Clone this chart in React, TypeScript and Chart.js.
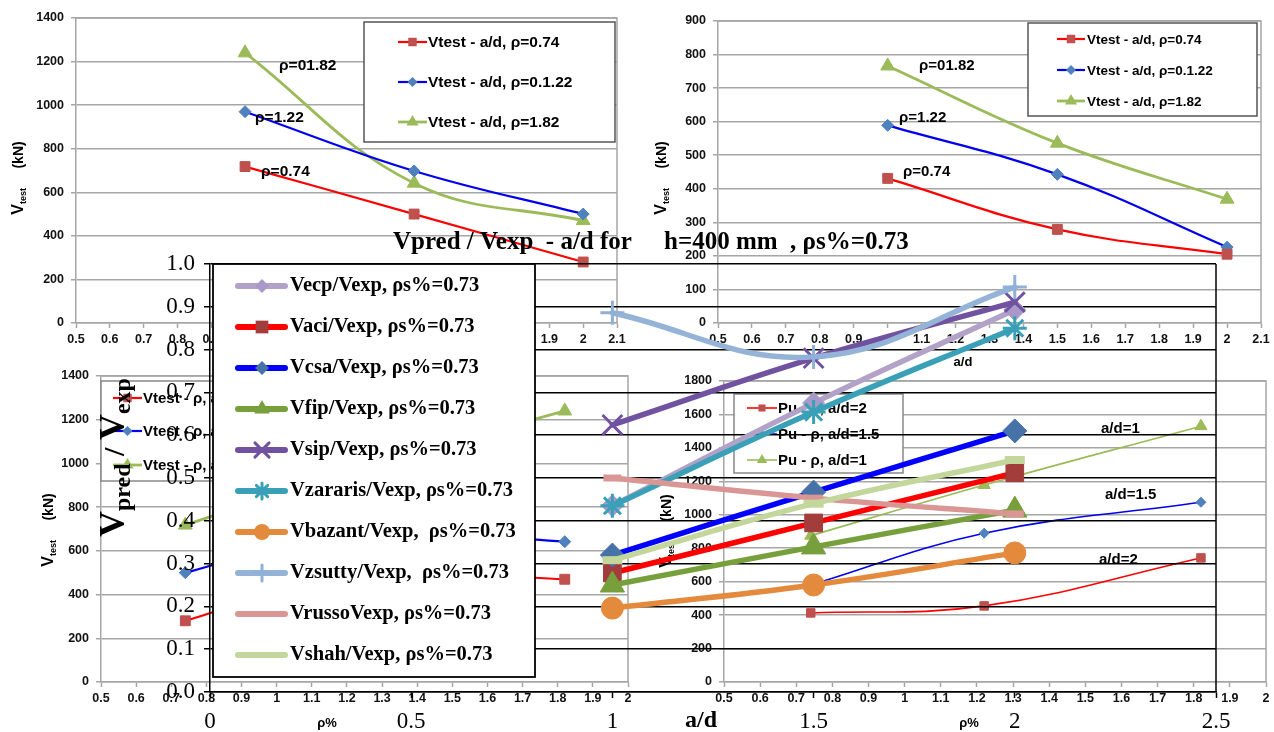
import React, { useEffect, useRef } from "react";
import { Chart, registerables } from "chart.js";

Chart.register(...registerables);

const W = 1274;
const H = 732;
const SANS = "'Liberation Sans', Arial, sans-serif";
const SERIF = "'Liberation Serif', 'Times New Roman', serif";
const GRID = "#a6a6a6";

// ---------------- data ----------------
const adRatios = [1, 1.5, 2];
const rhoPercents = [0.74, 1.22, 1.82];

// top-left: Vtest vs a/d
const tlVtestRho074 = [718, 500, 280];
const tlVtestRho122 = [970, 698, 500];
const tlVtestRho182 = [1240, 642, 470];
// top-right: Vtest vs a/d
const trVtestRho074 = [431, 279, 205];
const trVtestRho122 = [589, 443, 226];
const trVtestRho182 = [766, 536, 369];
const vtestAdLabels = ["Vtest - a/d, ρ=0.74", "Vtest - a/d, ρ=0.1.22", "Vtest - a/d, ρ=1.82"];
const rhoNotes = ["ρ=0.74", "ρ=1.22", "ρ=01.82"];

// bottom-left: Vtest vs rho
const blVtestAd2 = [280, 500, 470];
const blVtestAd15 = [500, 698, 642];
const blVtestAd1 = [718, 970, 1240];
const vtestRhoLabels = ["Vtest - ρ, a/d=2", "Vtest - ρ, a/d=1.5", "Vtest - ρ, a/d=1"];

// bottom-right: Pu vs rho
const brPuAd2 = [413, 455, 742];
const brPuAd15 = [580, 890, 1075];
const brPuAd1 = [875, 1178, 1530];
const puLabels = ["Pu - ρ, a/d=2", "Pu - ρ, a/d=1.5", "Pu - ρ, a/d=1"];
const adNotes = ["a/d=2", "a/d=1.5", "a/d=1"];

// overlay: Vpred / Vexp vs a/d
const ratioTitle = "Vpred / Vexp  - a/d for";
const ratioTitle2 = "h=400 mm  , ρs%=0.73";
const ratioLabels = [
  "Vecp/Vexp, ρs%=0.73",
  "Vaci/Vexp, ρs%=0.73",
  "Vcsa/Vexp, ρs%=0.73",
  "Vfip/Vexp, ρs%=0.73",
  "Vsip/Vexp, ρs%=0.73",
  "Vzararis/Vexp, ρs%=0.73",
  "Vbazant/Vexp,  ρs%=0.73",
  "Vzsutty/Vexp,  ρs%=0.73",
  "VrussoVexp, ρs%=0.73",
  "Vshah/Vexp, ρs%=0.73",
];
const vecpRatio = [0.435, 0.675, 0.893];
const vaciRatio = [0.278, 0.395, 0.512];
const vcsaRatio = [0.32, 0.467, 0.61];
const vfipRatio = [0.25, 0.339, 0.425];
const vsipRatio = [0.624, 0.78, 0.911];
const vzararisRatio = [0.435, 0.654, 0.85];
const vbazantRatio = [0.196, 0.25, 0.325];
const vzsuttyRatio = [0.886, 0.783, 0.946];
const vrussoRatio = [0.5, 0.453, 0.416];
const vshahRatio = [0.308, 0.44, 0.542];

// ---------------- helpers ----------------
function drawMarker(ctx: any, style: string, x: number, y: number, r: number, fill: string, stroke: string, lw: number) {
  ctx.save();
  ctx.fillStyle = fill;
  ctx.strokeStyle = stroke;
  ctx.lineWidth = lw;
  ctx.beginPath();
  const s = r * Math.SQRT1_2;
  switch (style) {
    case "rect":
      ctx.rect(x - s, y - s, 2 * s, 2 * s);
      ctx.fill();
      break;
    case "rectRot":
      ctx.moveTo(x, y - r);
      ctx.lineTo(x + r, y);
      ctx.lineTo(x, y + r);
      ctx.lineTo(x - r, y);
      ctx.closePath();
      ctx.fill();
      break;
    case "triangle":
      ctx.moveTo(x, y - r);
      ctx.lineTo(x + r * 0.866, y + r / 2);
      ctx.lineTo(x - r * 0.866, y + r / 2);
      ctx.closePath();
      ctx.fill();
      break;
    case "circle":
      ctx.arc(x, y, r, 0, Math.PI * 2);
      ctx.fill();
      break;
    case "cross":
      ctx.moveTo(x, y - r);
      ctx.lineTo(x, y + r);
      ctx.moveTo(x - r, y);
      ctx.lineTo(x + r, y);
      ctx.stroke();
      break;
    case "crossRot":
      ctx.moveTo(x - s, y - s);
      ctx.lineTo(x + s, y + s);
      ctx.moveTo(x + s, y - s);
      ctx.lineTo(x - s, y + s);
      ctx.stroke();
      break;
    case "star":
      ctx.moveTo(x, y - r);
      ctx.lineTo(x, y + r);
      ctx.moveTo(x - r, y);
      ctx.lineTo(x + r, y);
      ctx.moveTo(x - s, y - s);
      ctx.lineTo(x + s, y + s);
      ctx.moveTo(x + s, y - s);
      ctx.lineTo(x - s, y + s);
      ctx.stroke();
      break;
    case "line":
      ctx.moveTo(x - r, y);
      ctx.lineTo(x + r, y);
      ctx.stroke();
      break;
  }
  ctx.restore();
}

function drawVtestTitle(ctx: any, cx: number, cy: number) {
  const parts = [
    { t: "V", f: `bold 16px ${SANS}`, dy: 0 },
    { t: "test", f: `bold 9px ${SANS}`, dy: 3 },
    { t: "     (kN)", f: `bold 14px ${SANS}`, dy: 0 },
  ];
  ctx.save();
  ctx.translate(cx, cy);
  ctx.rotate(-Math.PI / 2);
  ctx.fillStyle = "#000";
  ctx.textBaseline = "alphabetic";
  ctx.textAlign = "left";
  let total = 0;
  for (const p of parts) {
    ctx.font = p.f;
    total += ctx.measureText(p.t).width;
  }
  let x = -total / 2;
  for (const p of parts) {
    ctx.font = p.f;
    ctx.fillText(p.t, x, 5 + p.dy);
    x += ctx.measureText(p.t).width;
  }
  ctx.restore();
}

interface BgSeries {
  label: string;
  xs: number[];
  ys: number[];
  line: string;
  point: string;
  style: string;
  radius: number;
  width: number;
}
interface BgSpec {
  area: { l: number; t: number; r: number; b: number };
  xMin: number;
  xMax: number;
  yMax: number;
  yStep: number;
  series: BgSeries[];
  tension: number;
  legend: { x: number; y: number; w: number; h: number; rows: number[]; lx0: number; lx1: number; tx: number; size: number; border: string };
  notes: { text: string; x: number; y: number }[];
  noteSize: number;
  yTitle: { x: number; y: number };
  xTitle: { text: string; x: number; y: number };
}

function bgConfig(spec: BgSpec): any {
  const yW = 50;
  const xH = 30;
  const tickFont = { family: SANS, size: 12.5, weight: "bold" as const };
  const decor = {
    id: "bgDecor",
    afterDraw(chart: any) {
      const ctx = chart.ctx;
      const a = chart.chartArea;
      ctx.save();
      ctx.strokeStyle = GRID;
      ctx.lineWidth = 1.5;
      ctx.beginPath();
      ctx.moveTo(a.left, a.top);
      ctx.lineTo(a.right, a.top);
      ctx.lineTo(a.right, a.bottom);
      ctx.stroke();
      // legend
      const L = spec.legend;
      ctx.fillStyle = "#fff";
      ctx.fillRect(L.x, L.y, L.w, L.h);
      ctx.strokeStyle = L.border;
      ctx.lineWidth = 1.5;
      ctx.strokeRect(L.x, L.y, L.w, L.h);
      ctx.font = `bold ${L.size}px ${SANS}`;
      ctx.textBaseline = "middle";
      ctx.textAlign = "left";
      spec.series.forEach((s, i) => {
        const y = L.rows[i];
        ctx.strokeStyle = s.line;
        ctx.lineWidth = s.width;
        ctx.beginPath();
        ctx.moveTo(L.lx0, y);
        ctx.lineTo(L.lx1, y);
        ctx.stroke();
        drawMarker(ctx, s.style, (L.lx0 + L.lx1) / 2, y, s.radius - 1, s.point, s.point, 1);
        ctx.fillStyle = "#000";
        ctx.fillText(s.label, L.tx, y + 1);
      });
      // notes
      ctx.font = `bold ${spec.noteSize}px ${SANS}`;
      ctx.fillStyle = "#000";
      for (const n of spec.notes) ctx.fillText(n.text, n.x, n.y);
      // axis titles
      ctx.font = `bold 13px ${SANS}`;
      ctx.textAlign = "center";
      ctx.fillText(spec.xTitle.text, spec.xTitle.x, spec.xTitle.y);
      ctx.restore();
      drawVtestTitle(ctx, spec.yTitle.x, spec.yTitle.y);
    },
  };
  return {
    type: "line",
    data: {
      datasets: spec.series.map((s) => ({
        label: s.label,
        data: s.xs.map((x, i) => ({ x, y: s.ys[i] })),
        borderColor: s.line,
        borderWidth: s.width,
        backgroundColor: s.point,
        pointBackgroundColor: s.point,
        pointBorderColor: s.point,
        pointBorderWidth: 1,
        pointStyle: s.style,
        pointRadius: s.radius,
        tension: spec.tension,
        borderJoinStyle: "round",
        fill: false,
      })),
    },
    options: {
      responsive: false,
      animation: false,
      devicePixelRatio: 1,
      events: [],
      layout: {
        padding: { left: spec.area.l - yW, top: spec.area.t, right: W - spec.area.r, bottom: H - spec.area.b - xH },
      },
      plugins: { legend: { display: false }, tooltip: { enabled: false }, title: { display: false } },
      scales: {
        x: {
          type: "linear",
          min: spec.xMin,
          max: spec.xMax,
          afterFit: (s: any) => {
            s.height = xH;
          },
          ticks: {
            stepSize: 0.1,
            autoSkip: false,
            maxRotation: 0,
            padding: 4,
            color: "#111",
            font: tickFont,
            callback: (v: any) => String(Math.round(Number(v) * 10) / 10),
          },
          grid: { drawOnChartArea: false, drawTicks: true, tickLength: 5, tickColor: GRID, tickWidth: 1.5, color: GRID },
          border: { color: GRID, width: 1.5 },
        },
        y: {
          type: "linear",
          min: 0,
          max: spec.yMax,
          afterFit: (s: any) => {
            s.width = yW;
          },
          ticks: {
            stepSize: spec.yStep,
            padding: 7,
            color: "#111",
            font: tickFont,
            callback: (v: any) => String(Math.round(Number(v))),
          },
          grid: { color: GRID, lineWidth: 1.5, tickLength: 5 },
          border: { color: GRID, width: 1.5 },
        },
      },
    },
    plugins: [decor],
  };
}

const RED = { line: "#ff0000", point: "#c0504d", style: "rect", radius: 7 };
const BLUE = { line: "#0000ee", point: "#4f81bd", style: "rectRot", radius: 6 };
const GREEN = { line: "#9bbb59", point: "#9bbb59", style: "triangle", radius: 8 };

function topLeftSpec(): BgSpec {
  return {
    area: { l: 76, t: 18, r: 617, b: 323 },
    xMin: 0.5,
    xMax: 2.1,
    yMax: 1400,
    yStep: 200,
    tension: 0.4,
    series: [
      { label: vtestAdLabels[0], xs: adRatios, ys: tlVtestRho074, ...RED, width: 2.2 },
      { label: vtestAdLabels[1], xs: adRatios, ys: tlVtestRho122, ...BLUE, width: 2.2 },
      { label: vtestAdLabels[2], xs: adRatios, ys: tlVtestRho182, ...GREEN, width: 2.8 },
    ],
    legend: { x: 364, y: 22, w: 251, h: 120, rows: [42, 82, 122], lx0: 398, lx1: 427, tx: 428, size: 15.5, border: "#555" },
    notes: [
      { text: rhoNotes[0], x: 261, y: 172 },
      { text: rhoNotes[1], x: 255, y: 118 },
      { text: rhoNotes[2], x: 279, y: 66 },
    ],
    noteSize: 15.5,
    yTitle: { x: 18, y: 178 },
    xTitle: { text: "a/d", x: 347, y: 362 },
  };
}

function topRightSpec(): BgSpec {
  return {
    area: { l: 718, t: 21, r: 1261, b: 323 },
    xMin: 0.5,
    xMax: 2.1,
    yMax: 900,
    yStep: 100,
    tension: 0.4,
    series: [
      { label: vtestAdLabels[0], xs: adRatios, ys: trVtestRho074, ...RED, width: 2.2 },
      { label: vtestAdLabels[1], xs: adRatios, ys: trVtestRho122, ...BLUE, width: 2.2 },
      { label: vtestAdLabels[2], xs: adRatios, ys: trVtestRho182, ...GREEN, width: 2.8 },
    ],
    legend: { x: 1028, y: 23, w: 229, h: 93, rows: [39, 70, 101], lx0: 1057, lx1: 1085, tx: 1087, size: 13.5, border: "#555" },
    notes: [
      { text: rhoNotes[0], x: 903, y: 172 },
      { text: rhoNotes[1], x: 899, y: 118 },
      { text: rhoNotes[2], x: 919, y: 66 },
    ],
    noteSize: 15,
    yTitle: { x: 661, y: 178 },
    xTitle: { text: "a/d", x: 963, y: 362 },
  };
}

function bottomLeftSpec(): BgSpec {
  return {
    area: { l: 101, t: 376, r: 628, b: 682 },
    xMin: 0.5,
    xMax: 2,
    yMax: 1400,
    yStep: 200,
    tension: 0.4,
    series: [
      { label: vtestRhoLabels[0], xs: rhoPercents, ys: blVtestAd2, ...RED, width: 2.2 },
      { label: vtestRhoLabels[1], xs: rhoPercents, ys: blVtestAd15, ...BLUE, width: 2.2 },
      { label: vtestRhoLabels[2], xs: rhoPercents, ys: blVtestAd1, ...GREEN, width: 2.8 },
    ],
    legend: { x: 101, y: 381, w: 170, h: 100, rows: [398, 431, 465], lx0: 113, lx1: 142, tx: 143, size: 15, border: "#888" },
    notes: [],
    noteSize: 15,
    yTitle: { x: 48, y: 530 },
    xTitle: { text: "ρ%", x: 327, y: 723 },
  };
}

function bottomRightSpec(): BgSpec {
  return {
    area: { l: 724, t: 381, r: 1266, b: 682 },
    xMin: 0.5,
    xMax: 2,
    yMax: 1800,
    yStep: 200,
    tension: 0.4,
    series: [
      { label: puLabels[0], xs: rhoPercents, ys: brPuAd2, ...RED, radius: 6, width: 1.6 },
      { label: puLabels[1], xs: rhoPercents, ys: brPuAd15, ...BLUE, radius: 5, width: 1.6 },
      { label: puLabels[2], xs: rhoPercents, ys: brPuAd1, ...GREEN, radius: 7, width: 1.6 },
    ],
    legend: { x: 734, y: 394, w: 169, h: 79, rows: [408, 434, 460], lx0: 747, lx1: 777, tx: 778, size: 15, border: "#888" },
    notes: [
      { text: adNotes[0], x: 1099, y: 560 },
      { text: adNotes[1], x: 1105, y: 495 },
      { text: adNotes[2], x: 1101, y: 429 },
    ],
    noteSize: 15,
    yTitle: { x: 666, y: 531 },
    xTitle: { text: "ρ%", x: 969, y: 723 },
  };
}

// ---------------- overlay ----------------
const ratioStyles = [
  { line: "#b3a2c7", point: "#a999c9", style: "rectRot", r: 11, pw: 1, lr: 7 },
  { line: "#ff0000", point: "#a33d3b", style: "rect", r: 12.5, pw: 1, lr: 9 },
  { line: "#0000ff", point: "#4672a8", style: "rectRot", r: 12, pw: 1, lr: 7 },
  { line: "#77a03c", point: "#77a03c", style: "triangle", r: 14, pw: 1, lr: 9 },
  { line: "#7052a0", point: "#7052a0", style: "crossRot", r: 14, pw: 3, lr: 10 },
  { line: "#3aa0b8", point: "#3aa0b8", style: "star", r: 12, pw: 3, lr: 8 },
  { line: "#e38a3d", point: "#e38a3d", style: "circle", r: 11, pw: 1, lr: 8 },
  { line: "#95b3d7", point: "#8fb0d8", style: "cross", r: 12, pw: 3, lr: 8 },
  { line: "#d99694", point: "#d99694", style: "line", r: 9, pw: 7, lr: 0 },
  { line: "#c3d69b", point: "#c3d69b", style: "line", r: 10, pw: 8, lr: 0 },
];
const ratioValues = [
  vecpRatio,
  vaciRatio,
  vcsaRatio,
  vfipRatio,
  vsipRatio,
  vzararisRatio,
  vbazantRatio,
  vzsuttyRatio,
  vrussoRatio,
  vshahRatio,
];

function overlayConfig(): any {
  const area = { l: 210, t: 264, r: 1216, b: 692 };
  const yW = 60;
  const xH = 40;
  const n = ratioLabels.length;
  const decor = {
    id: "ovDecor",
    afterDraw(chart: any) {
      const ctx = chart.ctx;
      const a = chart.chartArea;
      ctx.save();
      ctx.strokeStyle = "#000";
      ctx.lineWidth = 1.5;
      ctx.beginPath();
      ctx.moveTo(a.right, a.top);
      ctx.lineTo(a.right, a.bottom);
      ctx.stroke();
      // legend box
      const lx = 213;
      const ly = 264;
      const lw = 322;
      const lh = 413;
      ctx.fillStyle = "#fff";
      ctx.fillRect(lx, ly, lw, lh);
      ctx.strokeStyle = "#000";
      ctx.lineWidth = 1.8;
      ctx.strokeRect(lx, ly, lw, lh);
      ctx.font = `bold 20.5px ${SERIF}`;
      ctx.textBaseline = "middle";
      ctx.textAlign = "left";
      chart.data.datasets.forEach((ds: any, i: number) => {
        const st = ratioStyles[i];
        const y = 286 + i * 41;
        ctx.strokeStyle = st.line;
        ctx.lineWidth = 6;
        ctx.lineCap = "round";
        ctx.beginPath();
        ctx.moveTo(238, y);
        ctx.lineTo(285, y);
        ctx.stroke();
        if (st.lr > 0) drawMarker(ctx, st.style, 262, y, st.lr, st.point, st.point, st.pw);
        ctx.fillStyle = "#000";
        ctx.fillText(ds.label, 290, y);
      });
      // title
      ctx.font = `bold 25px ${SERIF}`;
      ctx.fillStyle = "#000";
      ctx.textBaseline = "middle";
      ctx.fillText(ratioTitle, 393, 243);
      ctx.fillText(ratioTitle2, 664, 243);
      // x title
      ctx.font = `bold 24px ${SERIF}`;
      ctx.textAlign = "center";
      ctx.fillText("a/d", 701, 721);
      ctx.restore();
      // y title
      ctx.save();
      ctx.translate(124, 537);
      ctx.rotate(-Math.PI / 2);
      ctx.fillStyle = "#000";
      ctx.textBaseline = "alphabetic";
      ctx.textAlign = "left";
      const parts = [
        { t: "V", s: 36, dy: 0 },
        { t: "pred", s: 24, dy: 6 },
        { t: " / ", s: 30, dy: 0 },
        { t: "V", s: 36, dy: 0 },
        { t: "exp", s: 24, dy: 6 },
      ];
      let x = 0;
      for (const p of parts) {
        ctx.font = `bold ${p.s}px ${SERIF}`;
        ctx.fillText(p.t, x, p.dy);
        x += ctx.measureText(p.t).width;
      }
      ctx.restore();
    },
  };
  return {
    type: "line",
    data: {
      datasets: ratioLabels.map((label, i) => {
        const st = ratioStyles[i];
        return {
          label,
          data: adRatios.map((x, j) => ({ x, y: ratioValues[i][j] })),
          borderColor: st.line,
          borderWidth: 5.5,
          backgroundColor: st.point,
          pointBackgroundColor: st.point,
          pointBorderColor: st.point,
          pointBorderWidth: st.pw,
          pointStyle: st.style,
          pointRadius: st.r,
          tension: 0.4,
          borderJoinStyle: "round",
          borderCapStyle: "round",
          order: n - i,
          fill: false,
        };
      }),
    },
    options: {
      responsive: false,
      animation: false,
      devicePixelRatio: 1,
      events: [],
      layout: { padding: { left: area.l - yW, top: area.t, right: W - area.r, bottom: H - area.b - xH } },
      plugins: { legend: { display: false }, tooltip: { enabled: false }, title: { display: false } },
      scales: {
        x: {
          type: "linear",
          min: 0,
          max: 2.5,
          afterFit: (s: any) => {
            s.height = xH;
          },
          ticks: {
            stepSize: 0.5,
            autoSkip: false,
            maxRotation: 0,
            padding: 10,
            color: "#000",
            font: { family: SERIF, size: 23 },
            callback: (v: any) => String(Math.round(Number(v) * 10) / 10),
          },
          grid: { drawOnChartArea: false, tickLength: 6, tickColor: "#000", tickWidth: 1.5, color: "#000" },
          border: { color: "#000", width: 1.5 },
        },
        y: {
          type: "linear",
          min: 0,
          max: 1,
          afterFit: (s: any) => {
            s.width = yW;
          },
          ticks: {
            stepSize: 0.1,
            padding: 9,
            color: "#000",
            font: { family: SERIF, size: 23 },
            callback: (v: any) => Number(v).toFixed(1),
          },
          grid: { color: "#000", lineWidth: 1.5, tickLength: 6, tickColor: "#000" },
          border: { color: "#000", width: 1.5 },
        },
      },
    },
    plugins: [decor],
  };
}

export default function App() {
  const r0 = useRef<HTMLCanvasElement>(null);
  const r1 = useRef<HTMLCanvasElement>(null);
  const r2 = useRef<HTMLCanvasElement>(null);
  const r3 = useRef<HTMLCanvasElement>(null);
  const r4 = useRef<HTMLCanvasElement>(null);
  const refs = [r0, r1, r2, r3, r4];

  useEffect(() => {
    const charts = [
      new Chart(r0.current as HTMLCanvasElement, bgConfig(topLeftSpec())),
      new Chart(r1.current as HTMLCanvasElement, bgConfig(topRightSpec())),
      new Chart(r2.current as HTMLCanvasElement, bgConfig(bottomLeftSpec())),
      new Chart(r3.current as HTMLCanvasElement, bgConfig(bottomRightSpec())),
      new Chart(r4.current as HTMLCanvasElement, overlayConfig()),
    ];
    return () => charts.forEach((c) => c.destroy());
  }, []);

  return (
    <div style={{ position: "absolute", left: 0, top: 0, width: W, height: H, background: "#fff", overflow: "hidden" }}>
      {refs.map((r, i) => (
        <canvas
          key={i}
          ref={r}
          width={W}
          height={H}
          style={{ position: "absolute", left: 0, top: 0, width: W, height: H }}
        />
      ))}
    </div>
  );
}
